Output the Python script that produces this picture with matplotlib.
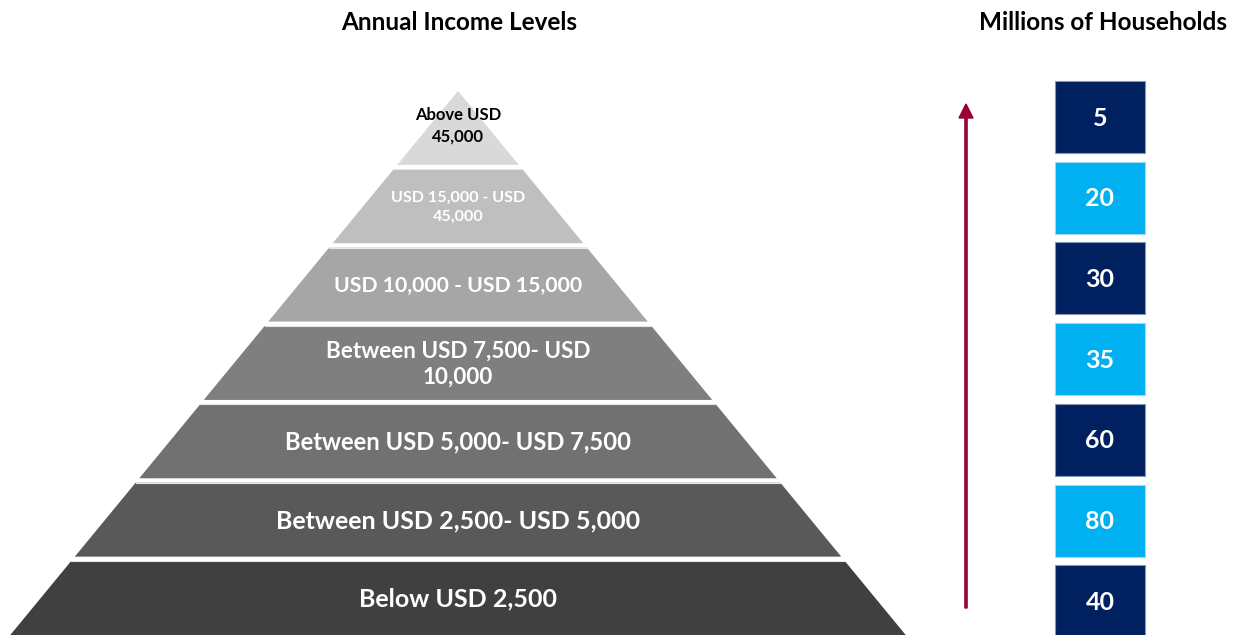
import matplotlib.pyplot as plt
from matplotlib.patches import Polygon, Rectangle, FancyArrow

plt.rcParams['font.family'] = ['Lato', 'DejaVu Sans']

# income bands, top of the pyramid first
income_levels = [
    "Above USD\n45,000",
    "USD 15,000 - USD\n45,000",
    "USD 10,000 - USD 15,000",
    "Between USD 7,500- USD\n10,000",
    "Between USD 5,000- USD 7,500",
    "Between USD 2,500- USD 5,000",
    "Below USD 2,500",
]
households_mn = [5, 20, 30, 35, 60, 80, 40]

layer_colors = ["#d9d9d9", "#bfbfbf", "#a6a6a6", "#7f7f7f", "#717171", "#595959", "#404040"]
label_colors = ["black"] + ["white"] * 6
label_sizes = [12, 11.6, 15.3, 16.2, 17.1, 18, 18]
label_spacing = [1.45, 1.5, 1.2, 1.32, 1.2, 1.2, 1.2]
box_colors = ["#002060", "#00b0f0"]

W, H = 1243, 635
fig = plt.figure(figsize=(W / 100, H / 100), dpi=100)
ax = fig.add_axes([0, 0, 1, 1])
ax.set_xlim(0, W)
ax.set_ylim(H, 0)
ax.axis("off")

# pyramid layout
apex_x, apex_y = 458, 91
base_y = 635
half_slope = 0.823  # horizontal run per pixel of drop
gap = 4.5
n = len(income_levels)
layer_h = (base_y - apex_y + gap) / n

for i, (lab, col) in enumerate(zip(income_levels, layer_colors)):
    top = apex_y + i * layer_h
    bot = top + layer_h - gap
    wt = (top - apex_y) * half_slope
    wb = (bot - apex_y) * half_slope
    if i == 0:
        pts = [(apex_x, top), (apex_x + wb, bot), (apex_x - wb, bot)]
    else:
        pts = [(apex_x - wt, top), (apex_x + wt, top), (apex_x + wb, bot), (apex_x - wb, bot)]
    ax.add_patch(Polygon(pts, closed=True, facecolor=col, edgecolor="none"))
    # thin light rim along the top of each lower layer
    if i > 0:
        ax.plot([apex_x - wt, apex_x + wt], [top, top], color="#e6e6e6", lw=0.8)
    ty = (top + bot) / 2 + (-2 if i == 0 else 1)
    ax.text(apex_x, ty, lab, ha="center", va="center", color=label_colors[i],
            fontsize=label_sizes[i], fontweight="bold", linespacing=label_spacing[i])

# household boxes
box_x0, box_w = 1055, 90
box_top, box_pitch, box_h = 81, 80.7, 72
for i, v in enumerate(households_mn):
    y0 = box_top + i * box_pitch
    c = box_colors[i % 2]
    ax.add_patch(Rectangle((box_x0, y0), box_w, box_h, facecolor=c,
                           edgecolor="#8497b0" if c == "#002060" else "#9dd9f3", lw=0.8))
    ax.text(box_x0 + box_w / 2, y0 + box_h / 2 + 1, str(v), ha="center", va="center",
            color="white", fontsize=18, fontweight="bold")

# upward arrow next to the boxes
ax.add_patch(FancyArrow(966, 608, 0, -490, width=2.2, head_width=14, head_length=14,
                        length_includes_head=False, color="#990033"))

ax.text(459, 23, "Annual Income Levels", ha="center", va="center",
        fontsize=17.5, fontweight="bold", color="black")
ax.text(1103, 23, "Millions of Households", ha="center", va="center",
        fontsize=17.5, fontweight="bold", color="black")

fig.savefig("out.png", dpi=100)
